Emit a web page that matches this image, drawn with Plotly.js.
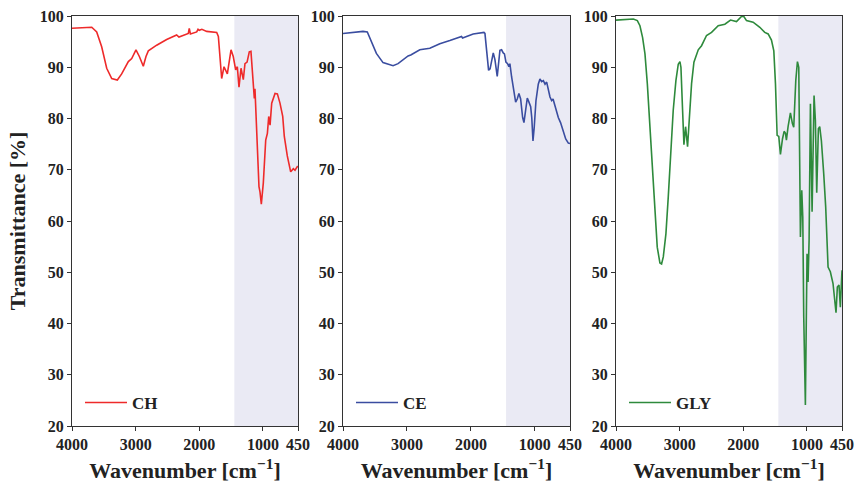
<!DOCTYPE html>
<html>
<head>
<meta charset="utf-8">
<script src="https://cdn.plot.ly/plotly-3.0.1.min.js"></script>
<style>html,body{margin:0;padding:0;background:#fff;}#chart{width:861px;height:489px;}</style>
</head>
<body>
<div id="chart"></div>
<script>
// CH spectrum
const chX = [4000,3690,3612,3534,3455,3376,3288,3220,3115,3062,2995,2942,2880,2838,2801,2670,2513,2356,2320,2173,2158,2140,2041,2020,2000,1960,1884,1727,1701,1675,1649,1612,1560,1502,1467,1429,1403,1377,1345,1309,1283,1250,1215,1189,1173,1152,1136,1126,1099,1063,1047,1026,995,957,931,910,889,863,811,774,733,690,665,618,565,523,497,461,450];
const chY = [97.6,97.8,96.9,94.0,89.8,87.8,87.5,88.7,91.1,91.7,93.4,92.1,90.2,92.1,93.2,94.3,95.4,96.3,95.9,96.6,97.6,96.5,96.9,97.4,97.2,97.4,97.0,96.8,96.0,91.4,87.8,90.1,88.7,93.4,92.1,89.5,90.1,86.1,89.8,87.6,90.7,91.0,93.0,93.1,90.1,86.1,83.9,85.8,77.1,66.7,65.7,63.3,67.4,75.8,77.1,80.4,78.7,83.0,84.9,84.8,83.0,80.4,76.5,72.7,69.6,70.2,69.9,70.6,70.5];
// CE spectrum
const ceX = [4000,3687,3620,3556,3478,3374,3217,3139,2982,2940,2799,2642,2486,2329,2146,2130,1964,1796,1780,1754,1723,1700,1650,1624,1588,1546,1520,1494,1475,1452,1426,1405,1390,1363,1327,1300,1275,1249,1222,1191,1170,1145,1118,1092,1065,1048,1029,1010,982,946,920,894,867,840,815,763,737,715,685,633,598,555,517,476,450];
const ceY = [96.6,97.0,96.9,94.9,92.7,90.9,90.3,90.7,92.2,92.4,93.4,93.7,94.6,95.2,96.0,95.7,96.5,96.8,96.6,93.3,89.4,89.7,92.8,91.5,88.2,93.3,93.4,92.8,92.6,91.0,90.7,90.1,90.7,88.1,85.5,83.2,83.8,84.9,83.8,80.2,79.2,81.5,84.0,83.2,82.3,80.2,75.6,78.2,83.5,86.7,87.7,87.2,87.4,86.7,87.1,84.2,83.5,83.8,82.3,80.2,79.2,77.3,76.0,75.2,75.1];
// GLY spectrum
const glyX = [4000,3728,3665,3624,3582,3545,3508,3467,3425,3388,3352,3310,3284,3257,3216,3179,3142,3101,3059,3022,2996,2980,2954,2933,2907,2876,2850,2813,2776,2708,2656,2578,2499,2395,2290,2201,2107,2029,1992,1950,1846,1741,1663,1610,1558,1521,1495,1469,1443,1417,1385,1359,1338,1323,1297,1260,1229,1208,1176,1150,1129,1114,1103,1082,1066,1051,1025,1009,999,983,967,946,920,889,868,847,821,800,774,737,706,669,633,591,565,544,523,497,476,450];
const glyY = [99.2,99.4,99.1,98.1,95.8,92.6,86.8,78.3,69.2,61.4,54.9,51.8,51.6,53.0,57.5,64.7,73.1,81.6,87.4,90.6,91.1,90.0,81.6,74.9,78.4,74.5,79.6,86.8,91.0,93.4,94.2,96.2,96.8,98.1,98.4,99.2,98.9,99.9,99.9,99.1,98.8,97.8,96.8,96.5,95.3,93.2,86.8,76.7,76.5,73.0,76.0,77.5,77.1,75.8,78.4,81.1,79.0,78.3,87.4,91.1,90.0,73.8,56.9,66.0,60.8,41.3,24.1,42.6,53.6,48.1,56.2,82.9,61.8,84.5,79.6,65.5,78.0,78.4,75.7,69.2,62.7,51.0,50.1,47.8,44.5,42.1,47.1,47.5,43.2,50.4];

const seriesNames = ["CH","CE","GLY"];
const seriesColors = ["#EE2A2A","#3A4DA0","#2E8A3C"];
const xTicks = [4000,3000,2000,1000,450];
const yTicks = [20,30,40,50,60,70,80,90,100];
const shadeFrom = 1450, shadeTo = 450;

const FONT = "'Liberation Serif','Times New Roman',serif";
const xs = [chX, ceX, glyX], ys = [chY, ceY, glyY];
const doms = [[72/861, 298/861],[343/861, 570/861],[616/861, 842/861]];
const yDom = [1-426/489, 1-16/489];

const traces = [];
const layout = {
  width: 861, height: 489,
  margin: {l:0, r:0, t:0, b:0},
  paper_bgcolor: "#fff", plot_bgcolor: "#fff",
  showlegend: true,
  font: {family: FONT, size: 16, color: "#222", weight: "bold"},
  shapes: [], annotations: []
};
for (let i = 0; i < 3; i++) {
  const s = i === 0 ? "" : String(i+1);
  traces.push({
    x: xs[i], y: ys[i], type: "scatter", mode: "lines",
    name: seriesNames[i], xaxis: "x"+s, yaxis: "y"+s,
    legend: "legend"+s,
    line: {color: seriesColors[i], width: 1.6}
  });
  layout["xaxis"+s] = {
    domain: doms[i], anchor: "y"+s, range: [4000, 450], autorange: false,
    tickvals: xTicks, ticktext: xTicks.map(String),
    ticks: "outside", ticklen: 4, tickwidth: 1, tickcolor: "#333",
    showline: true, linecolor: "#333", linewidth: 1, mirror: true,
    showgrid: false, zeroline: false,
    tickfont: {family: FONT, size: 16, color: "#222", weight: "bold"},
    title: {text: "Wavenumber [cm<sup>−1</sup>]", font: {family: FONT, size: 22, color: "#222", weight: "bold"}, standoff: 10}
  };
  layout["yaxis"+s] = {
    domain: yDom, anchor: "x"+s, range: [20, 100], autorange: false,
    tickvals: yTicks,
    ticks: "outside", ticklen: 4, tickwidth: 1, tickcolor: "#333",
    showline: true, linecolor: "#333", linewidth: 1, mirror: true,
    showgrid: false, zeroline: false,
    tickfont: {family: FONT, size: 16, color: "#222", weight: "bold"}
  };
  if (i === 0) {
    layout.yaxis.title = {text: "Transmittance [%]", font: {family: FONT, size: 22, color: "#222", weight: "bold"}, standoff: 8};
  }
  layout.shapes.push({
    type: "rect", xref: "x"+s, yref: "y"+s+" domain",
    x0: shadeFrom, x1: shadeTo, y0: 0, y1: 1,
    fillcolor: "#EAEAF4", line: {width: 0}, layer: "below"
  });
  layout["legend"+s] = {
    x: doms[i][0] + 8/861, y: 1-403/489, xanchor: "left", yanchor: "middle",
    xref: "paper", yref: "paper", itemwidth: 42,
    bgcolor: "rgba(0,0,0,0)", borderwidth: 0,
    font: {family: FONT, size: 17, color: "#222", weight: "bold"}
  };
}
Plotly.newPlot("chart", traces, layout, {displayModeBar: false, staticPlot: true});
</script>
</body>
</html>
